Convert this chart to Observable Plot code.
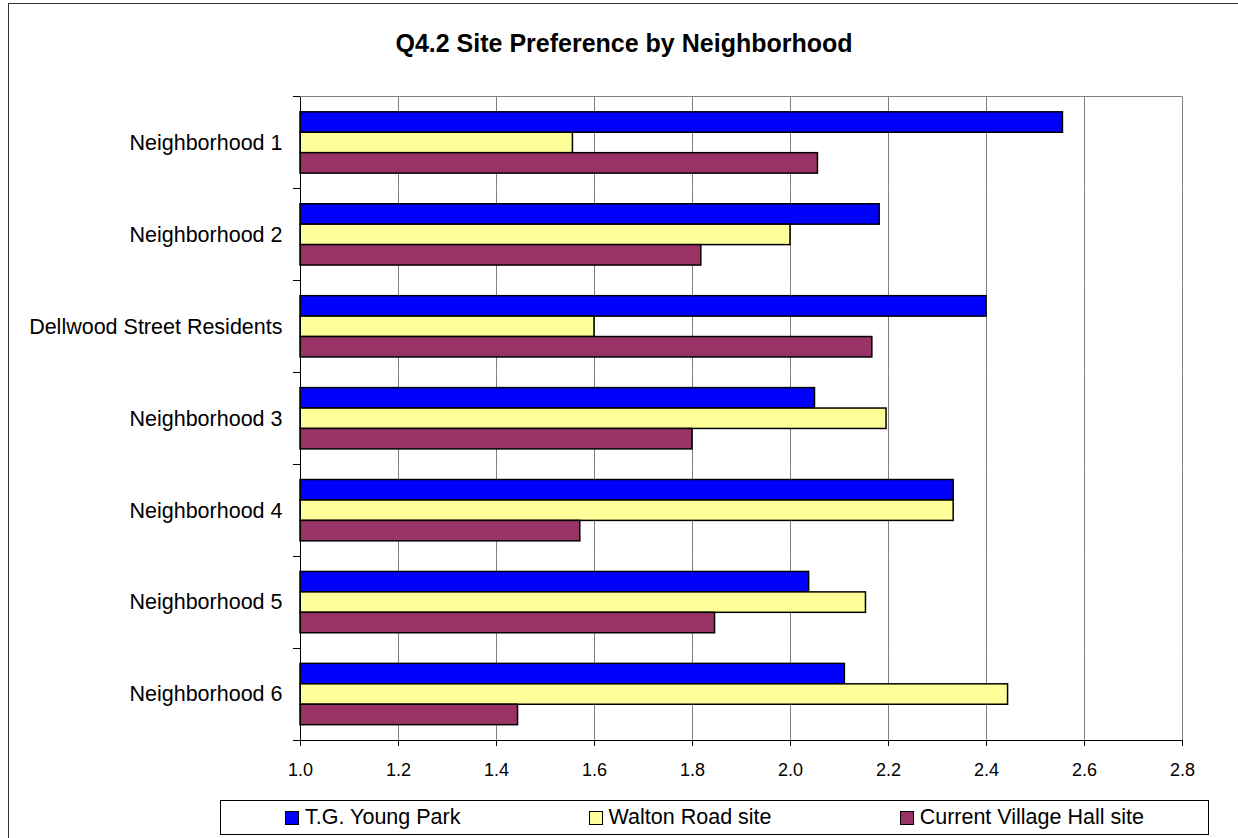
<!DOCTYPE html>
<html><head><meta charset="utf-8">
<script src="https://cdn.jsdelivr.net/npm/d3@7"></script>
<script src="https://cdn.jsdelivr.net/npm/@observablehq/plot@0.6"></script>
<style>
html,body{margin:0;padding:0;background:#fff;overflow:hidden}
#chart{position:relative;width:1238px;height:838px;overflow:hidden;font-family:"Liberation Sans",Arial,sans-serif;color:#000;background:#fff}
#border{position:absolute;left:8px;top:3px;width:1300px;height:900px;border:1px solid #333;box-sizing:border-box}
#title{position:absolute;left:0;top:31px;width:1248px;text-align:center;font-weight:bold;font-size:25px;line-height:25px}
#plot{position:absolute;left:0;top:60px}
#legend{position:absolute;left:220px;top:800px;width:989px;height:35px;box-sizing:border-box;border:1px solid #000;display:flex;justify-content:space-around;align-items:center;font-size:21.5px;background:#fff}
.item{display:flex;align-items:center;white-space:nowrap}
.sw{width:14px;height:14px;box-sizing:border-box;border:1px solid #000;margin-right:6px}
</style></head>
<body><div id="chart"><div id="border"></div><div id="title"></div><div id="plot"></div><div id="legend"></div></div>
<script>
const chartTitle = "Q4.2 Site Preference by Neighborhood";
const categories = ["Neighborhood 1", "Neighborhood 2", "Dellwood Street Residents", "Neighborhood 3", "Neighborhood 4", "Neighborhood 5", "Neighborhood 6"];
const seriesNames = ["T.G. Young Park", "Walton Road site", "Current Village Hall site"];
const tgYoungPark = [2.556, 2.182, 2.400, 2.050, 2.333, 2.038, 2.111];
const waltonRoad = [1.556, 2.000, 1.600, 2.196, 2.333, 2.154, 2.444];
const currentVillageHall = [2.056, 1.818, 2.167, 1.800, 1.571, 1.846, 1.444];
const seriesColors = ["#0000FF", "#FFFF99", "#993366"];
const xTicks = [1.0, 1.2, 1.4, 1.6, 1.8, 2.0, 2.2, 2.4, 2.6, 2.8];
const xDomain = [1.0, 2.8];

const seriesValues = [tgYoungPark, waltonRoad, currentVillageHall];
const rows = categories.flatMap((c, i) => seriesNames.map((s, j) => ({category: c, series: s, value: seriesValues[j][i]})));

document.getElementById("title").textContent = chartTitle;

const plot = Plot.plot({
  width: 1238, height: 740,
  marginTop: 36.5, marginBottom: 60, marginLeft: 300, marginRight: 56,
  style: {fontFamily: '"Liberation Sans", Arial, sans-serif', color: "#000", background: "transparent", overflow: "visible"},
  x: {domain: xDomain, axis: null},
  y: {domain: seriesNames, paddingInner: 0, paddingOuter: 0.75, round: false, axis: null},
  fy: {domain: categories, padding: 0, round: false, axis: null},
  color: {domain: seriesNames, range: seriesColors},
  marks: [
    Plot.gridX(xTicks.slice(1), {stroke: "#808080", strokeOpacity: 1, strokeWidth: 1}),
    Plot.barX(rows, {fy: "category", y: "series", x1: () => xDomain[0], x2: "value", fill: "series", stroke: "#000", strokeWidth: 1.5}),
    Plot.axisX({ticks: xTicks, tickFormat: d => d.toFixed(1), tickSize: 6, tickPadding: 17, fontSize: 18, stroke: "#000", label: null}),
    Plot.axisFy({anchor: "left", tickSize: 0, tickPadding: 18, fontSize: 21.5, label: null})
  ]
});
document.getElementById("plot").appendChild(plot);

// frame lines and category-boundary ticks derived from the plot's own scales
const svgSel = d3.select(plot);
const xs = plot.scale("x"), fys = plot.scale("fy");
const xLeft = xs.apply(xDomain[0]), xRight = xs.apply(xDomain[1]);
const bounds = categories.map(c => fys.apply(c));
bounds.push(fys.apply(categories[categories.length - 1]) + fys.bandwidth);
const yTop = bounds[0], yBottom = bounds[bounds.length - 1];
const gLines = svgSel.append("g").attr("shape-rendering", "crispEdges");
gLines.append("line").attr("x1", xLeft).attr("x2", xRight).attr("y1", yTop).attr("y2", yTop).attr("stroke", "#808080");
gLines.append("line").attr("x1", xLeft).attr("x2", xRight).attr("y1", yBottom).attr("y2", yBottom).attr("stroke", "#000");
gLines.append("line").attr("x1", xLeft).attr("x2", xLeft).attr("y1", yTop).attr("y2", yBottom).attr("stroke", "#000");
gLines.selectAll("line.tk").data(bounds).join("line").attr("class", "tk")
  .attr("x1", xLeft - 7).attr("x2", xLeft).attr("y1", d => d).attr("y2", d => d).attr("stroke", "#000");

// legend
const legendSel = d3.select("#legend");
seriesNames.forEach((s, i) => {
  const item = legendSel.append("div").attr("class", "item");
  item.append("div").attr("class", "sw").style("background", seriesColors[i]);
  item.append("span").text(s);
});
</script>
</body></html>
